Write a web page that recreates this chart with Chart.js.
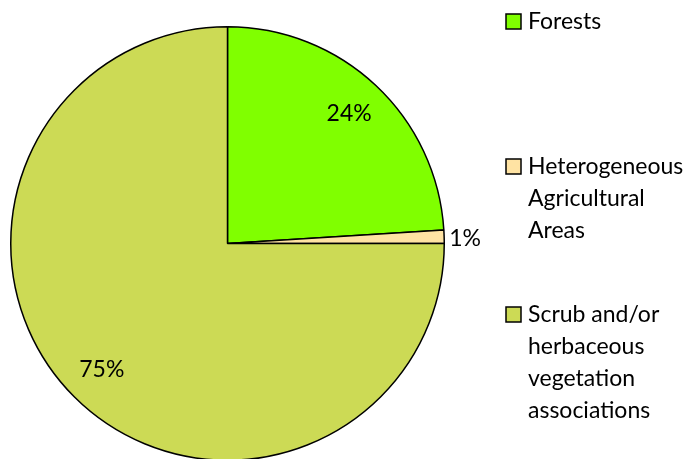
<!DOCTYPE html>
<html lang="en">
    <head>
        <meta charset="UTF-8">
        <title>Land cover</title>
        <script src="https://cdn.jsdelivr.net/npm/chart.js"></script>
        <style>
            html, body { margin: 0; padding: 0; background: #fff; overflow: hidden; }
            canvas { display: block; }
        </style>
    </head>
    <body>
        <canvas id="pieChart" width="697" height="470"></canvas>

        <script>
            // Data
            const categories = ['Forests', 'Heterogeneous Agricultural Areas', 'Scrub and/or herbaceous vegetation associations'];
            const values = [24, 1, 75];
            const valueLabels = ['24%', '1%', '75%'];
            const legendLines = [['Forests'], ['Heterogeneous', 'Agricultural', 'Areas'], ['Scrub and/or', 'herbaceous', 'vegetation', 'associations']];
            const colors = ['#80FF00', '#FFE3A3', '#CCDA55'];

            const FONT = '23px Lato, "Open Sans", sans-serif';

            // Percent labels + legend drawn after the pie
            const labelPlugin = {
                id: 'labelPlugin',
                afterDraw(chart) {
                    const ctx = chart.ctx;
                    const arcs = chart.getDatasetMeta(0).data;
                    ctx.save();
                    ctx.font = FONT;
                    ctx.fillStyle = '#000';
                    ctx.textBaseline = 'middle';
                    arcs.forEach((arc, i) => {
                        const mid = (arc.startAngle + arc.endAngle) / 2;
                        let r = arc.outerRadius * 0.82;
                        let dy = 0;
                        if (values[i] < 5) {
                            r = arc.outerRadius + 21;
                            dy = 3;
                        }
                        ctx.textAlign = 'center';
                        ctx.fillText(valueLabels[i], arc.x + Math.cos(mid) * r, arc.y + Math.sin(mid) * r + dy);
                    });

                    // legend
                    const boxX = 506, textX = 528, lineH = 32;
                    const tops = [22, 167, 315];
                    ctx.textAlign = 'left';
                    legendLines.forEach((lines, i) => {
                        ctx.fillStyle = colors[i];
                        ctx.fillRect(boxX, tops[i] - 8, 15, 15);
                        ctx.strokeStyle = '#000';
                        ctx.lineWidth = 1.5;
                        ctx.strokeRect(boxX, tops[i] - 8, 15, 15);
                        ctx.fillStyle = '#000';
                        lines.forEach((t, j) => ctx.fillText(t, textX, tops[i] + j * lineH));
                    });
                    ctx.restore();
                }
            };

            new Chart(document.getElementById('pieChart').getContext('2d'), {
                type: 'pie',
                data: {
                    labels: categories,
                    datasets: [{
                        data: values,
                        backgroundColor: colors,
                        borderColor: '#000',
                        borderWidth: 1.5
                    }]
                },
                options: {
                    responsive: false,
                    animation: false,
                    layout: { padding: { left: 10, top: 26, right: 252, bottom: 9 } },
                    plugins: {
                        legend: { display: false },
                        tooltip: { enabled: false }
                    }
                },
                plugins: [labelPlugin]
            });
        </script>
    </body>
</html>
